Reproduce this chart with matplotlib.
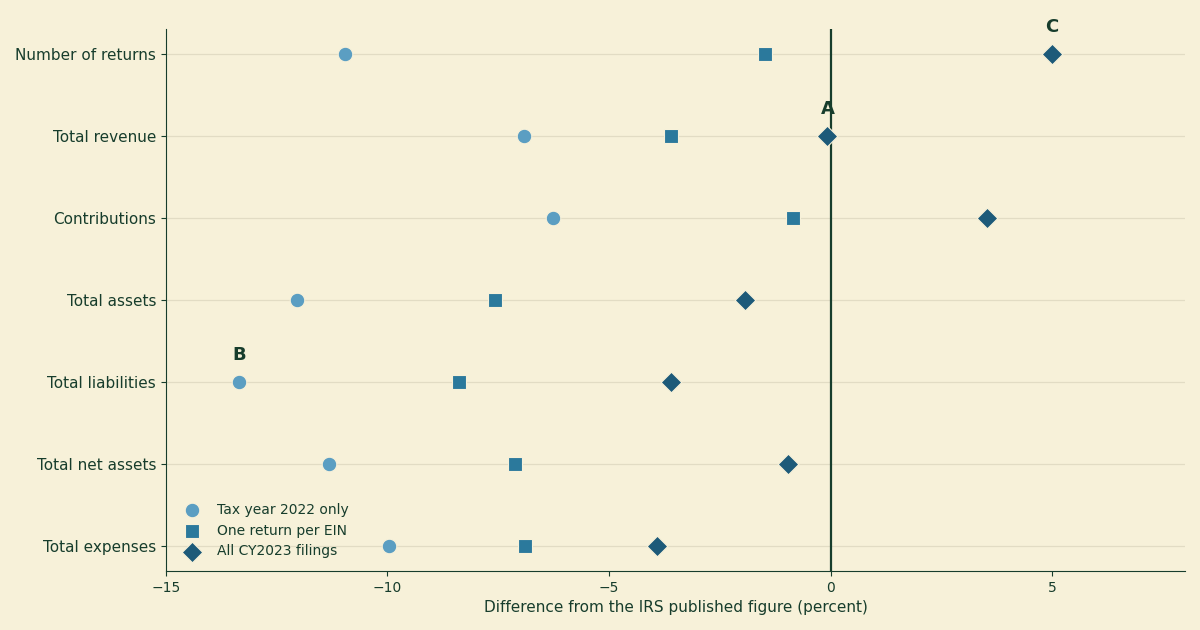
import matplotlib.pyplot as plt

BG = "#f7f1d9"
INK = "#173d2c"

measures = ["Number of returns", "Total revenue", "Contributions", "Total assets",
            "Total liabilities", "Total net assets", "Total expenses"]
tax_year_2022 = [-10.95, -6.91, -6.26, -12.04, -13.35, -11.32, -9.96]
one_per_ein = [-1.49, -3.59, -0.84, -7.57, -8.38, -7.12, -6.89]
all_cy2023 = [4.99, -0.07, 3.52, -1.92, -3.61, -0.97, -3.91]

# annotation letters: (label, measure index, series)
notes = [("C", 0, all_cy2023), ("A", 1, all_cy2023), ("B", 4, tax_year_2022)]

fig = plt.figure(figsize=(12, 6.3), dpi=100, facecolor=BG)
ax = fig.add_axes([0.1383, 0.0937, 0.8492, 0.8595], facecolor=BG)

ypos = list(range(len(measures)))
ax.scatter(tax_year_2022, ypos, marker="o", s=110, color="#5b9ec2",
           edgecolor=BG, linewidth=0.8, label="Tax year 2022 only", zorder=3)
ax.scatter(one_per_ein, ypos, marker="s", s=100, color="#2b799c",
           edgecolor=BG, linewidth=0.8, label="One return per EIN", zorder=3)
ax.scatter(all_cy2023, ypos, marker="D", s=110, color="#1d5a79",
           edgecolor=BG, linewidth=0.8, label="All CY2023 filings", zorder=4)

ax.axvline(0, color=INK, linewidth=1.6, zorder=2)

for letter, i, series in notes:
    ax.annotate(letter, (series[i], i), xytext=(0, 13), textcoords="offset points",
                ha="center", va="bottom", fontsize=13, fontweight="bold", color=INK)

ax.set_yticks(ypos)
ax.set_yticklabels(measures)
ax.set_ylim(6.3, -0.3)
ax.set_xlim(-15, 8)
ax.set_xticks([-15, -10, -5, 0, 5])
ax.grid(axis="y", color="#e2dcc4", linewidth=0.9, zorder=0)
ax.set_axisbelow(True)

for side in ["top", "right"]:
    ax.spines[side].set_visible(False)
for side in ["left", "bottom"]:
    ax.spines[side].set_color(INK)
ax.tick_params(colors=INK, labelsize=11)
ax.tick_params(axis="x", labelsize=10)
ax.set_xlabel("Difference from the IRS published figure (percent)", color=INK, fontsize=11)

leg = ax.legend(loc="lower left", frameon=False, fontsize=10, labelcolor=INK,
                handletextpad=0.8, borderaxespad=0.5)

fig.savefig("out.png", dpi=100, facecolor=BG)
